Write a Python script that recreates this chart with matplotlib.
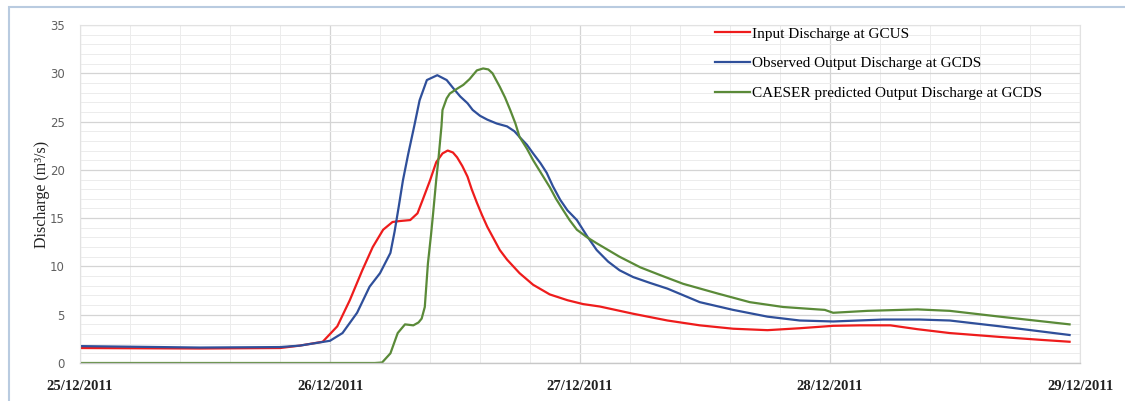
import matplotlib
matplotlib.use("Agg")
import matplotlib.pyplot as plt
from matplotlib.ticker import MultipleLocator
from matplotlib.patches import Rectangle

# Time in hours from 25/12/2011 00:00
red_t = [0, 11.5, 19.2, 21.1, 23.3, 24.7, 25.9, 27.1, 28.1, 29.1, 30.0, 30.7, 31.7, 32.4, 32.9,
         33.6, 34.2, 34.8, 35.3, 35.8, 36.2, 36.7, 37.2, 37.6, 38.1, 38.6, 39.1, 39.7, 40.3,
         41.0, 42.2, 43.5, 45.1, 46.8, 48.3, 49.9, 53.1, 56.4, 59.5, 62.7, 66.0, 69.1, 72.3,
         74.9, 77.8, 80.4, 83.5, 88.3, 92.2, 95.0]
red_q = [1.55, 1.5, 1.55, 1.8, 2.2, 3.8, 6.5, 9.6, 12.0, 13.8, 14.6, 14.7, 14.8, 15.5, 16.9,
         18.9, 20.8, 21.7, 22.0, 21.8, 21.3, 20.4, 19.3, 18.0, 16.6, 15.3, 14.1, 12.9, 11.7,
         10.7, 9.3, 8.1, 7.1, 6.5, 6.1, 5.85, 5.1, 4.4, 3.9, 3.55, 3.4, 3.6, 3.85,
         3.9, 3.9, 3.5, 3.1, 2.7, 2.4, 2.2]

blue_t = [0, 11.5, 19.2, 21.1, 24.0, 25.2, 26.6, 27.8, 28.8, 29.8, 30.2, 30.6, 31.0, 31.5, 32.1,
          32.6, 33.3, 34.3, 35.2, 35.8, 36.5, 37.2, 37.7, 38.4, 39.1, 40.0, 41.0, 41.7, 42.2,
          42.9, 43.5, 44.2, 44.8, 45.4, 46.1, 46.8, 47.7, 48.7, 49.6, 50.7, 51.8, 53.1, 54.7,
          56.4, 59.5, 62.7, 66.0, 69.1, 72.3, 77.1, 80.6, 83.5, 88.3, 95.0]
blue_q = [1.75, 1.6, 1.65, 1.8, 2.3, 3.1, 5.2, 7.9, 9.3, 11.4, 13.6, 16.2, 18.9, 21.6, 24.6,
          27.2, 29.3, 29.8, 29.3, 28.5, 27.6, 26.9, 26.2, 25.6, 25.2, 24.8, 24.5, 24.0, 23.4,
          22.6, 21.7, 20.7, 19.7, 18.3, 16.9, 15.8, 14.8, 13.1, 11.7, 10.5, 9.6, 8.9, 8.3,
          7.7, 6.3, 5.5, 4.8, 4.4, 4.3, 4.5, 4.5, 4.4, 3.8, 2.9]

green_t = [0, 28.3, 29.0, 29.8, 30.5, 31.2, 32.0, 32.5, 32.8, 33.1, 33.4, 33.7, 33.9, 34.2, 34.4,
           34.7, 34.8, 35.2, 35.5, 36.2, 36.8, 37.4, 38.1, 38.7, 39.2, 39.6, 39.9, 40.3, 40.8,
           41.3, 41.8, 42.2, 42.9, 43.5, 44.3, 45.1, 45.7, 46.4, 47.0, 47.7, 48.7, 49.6, 50.7,
           51.8, 53.8, 55.7, 57.9, 61.2, 64.3, 67.5, 70.8, 71.5, 72.3, 75.6, 80.4, 83.5, 88.3, 95.0]
green_q = [0, 0, 0.05, 1.0, 3.1, 4.0, 3.9, 4.2, 4.6, 5.8, 10.3, 13.3, 15.5, 19.0, 21.0,
           24.5, 26.2, 27.4, 27.9, 28.4, 28.8, 29.4, 30.3, 30.5, 30.4, 30.0, 29.4, 28.6, 27.5,
           26.2, 24.8, 23.4, 22.2, 21.0, 19.6, 18.2, 17.0, 15.8, 14.8, 13.8, 13.0, 12.4, 11.7,
           11.0, 9.9, 9.1, 8.2, 7.2, 6.3, 5.8, 5.55, 5.5, 5.2, 5.4, 5.55, 5.4, 4.8, 4.0]

day_ticks = [0, 24, 48, 72, 96]
day_labels = ["25/12/2011", "26/12/2011", "27/12/2011", "28/12/2011", "29/12/2011"]
series_labels = ["Input Discharge at GCUS",
                 "Observed Output Discharge at GCDS",
                 "CAESER predicted Output Discharge at GCDS"]

W, H = 1125, 401
fig = plt.figure(figsize=(W / 100, H / 100), dpi=100)
fig.patch.set_facecolor("white")
fig.patches.append(Rectangle((9 / W, -0.05), 1.2, 1 - 7 / H + 0.05, transform=fig.transFigure,
                             fill=False, edgecolor="#b9cbe0", linewidth=1.5))

ax = fig.add_axes([80 / W, 1 - 363 / H, 1000 / W, 338 / H])
ax.set_xlim(0, 96)
ax.set_ylim(0, 35)

ax.xaxis.set_major_locator(MultipleLocator(24))
ax.xaxis.set_minor_locator(MultipleLocator(4.8))
ax.yaxis.set_major_locator(MultipleLocator(5))
ax.yaxis.set_minor_locator(MultipleLocator(1))
ax.grid(which="major", color="#d4d4d4", linewidth=0.9)
ax.grid(which="minor", color="#ececec", linewidth=0.7)
ax.set_axisbelow(True)

for s in ["top", "right", "left"]:
    ax.spines[s].set_color("#e2e2e2")
    ax.spines[s].set_linewidth(0.8)
ax.spines["bottom"].set_color("#c8c8c8")
ax.spines["bottom"].set_linewidth(1.0)

ax.plot(red_t, red_q, color="#ee1c1c", linewidth=1.6, label=series_labels[0])
ax.plot(blue_t, blue_q, color="#2f4f9a", linewidth=1.6, label=series_labels[1])
ax.plot(green_t, green_q, color="#5a8a38", linewidth=1.6, label=series_labels[2])

ax.set_xticks(day_ticks)
ax.set_xticklabels(day_labels, fontfamily="Liberation Serif", fontsize=10.5,
                   fontweight="bold", color="#222222")
ax.tick_params(axis="x", which="both", length=0, pad=12)
ax.tick_params(axis="y", which="both", length=0, pad=11, labelsize=8.5, labelcolor="#606060")

ax.set_ylabel("Discharge (m³/s)", fontfamily="Liberation Serif", fontsize=11.5,
              color="#222222")
ax.yaxis.set_label_coords(-30 / 1000, 0.5)

ax.legend(loc="upper left", bbox_to_anchor=(715 / W, 1 - 27 / H),
          bbox_transform=fig.transFigure, frameon=False,
          prop={"family": "Liberation Serif", "size": 11},
          handlelength=2.3, handletextpad=0.1, labelspacing=1.05, borderpad=0,
          borderaxespad=0)

fig.savefig("out.png", dpi=100, facecolor="white")
